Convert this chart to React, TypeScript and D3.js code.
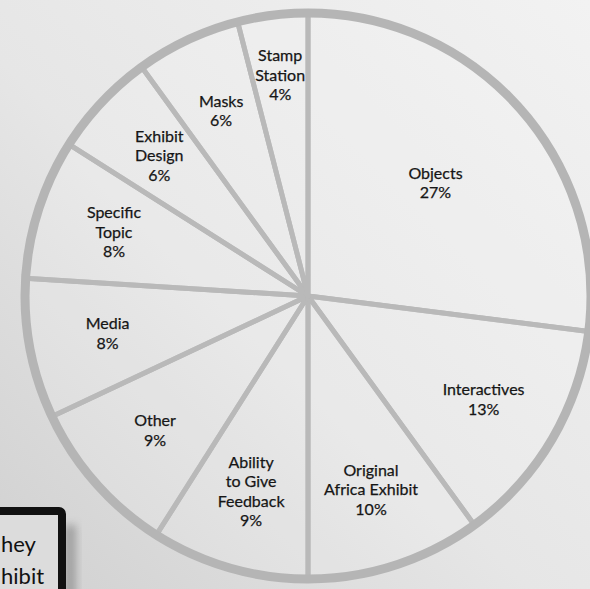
import React, { useEffect, useRef } from "react";
import * as d3 from "d3";

const categories = [
  "Objects",
  "Interactives",
  "Original|Africa Exhibit",
  "Ability|to Give|Feedback",
  "Other",
  "Media",
  "Specific|Topic",
  "Exhibit|Design",
  "Masks",
  "Stamp|Station",
];
const values = [27, 13, 10, 9, 9, 8, 8, 6, 6, 4];
const boxLines = ["hey", "hibit"];

const W = 590;
const H = 589;

export default function App() {
  const ref = useRef<SVGSVGElement>(null);
  useEffect(() => {
    const svg = d3.select(ref.current);
    svg.selectAll("*").remove();
    const defs = svg.append("defs");
    const g1 = defs
      .append("linearGradient")
      .attr("id", "bg")
      .attr("x1", "0")
      .attr("y1", "1")
      .attr("x2", "1")
      .attr("y2", "0");
    g1.append("stop").attr("offset", "0").attr("stop-color", "#d0d0d0");
    g1.append("stop").attr("offset", "0.45").attr("stop-color", "#e6e6e6");
    g1.append("stop").attr("offset", "1").attr("stop-color", "#f2f2f2");
    svg.append("rect").attr("width", W).attr("height", H).attr("fill", "url(#bg)");
    const blur = defs.append("filter").attr("id", "sh").attr("x", "-50%").attr("y", "-50%").attr("width", "200%").attr("height", "200%");
    blur.append("feGaussianBlur").attr("stdDeviation", 4);

    const cx = 308;
    const cy = 296;
    const R = 283;
    const g = svg.append("g").attr("transform", `translate(${cx},${cy})`);

    const data = categories.map((c, i) => ({ label: c, value: values[i] }));
    const pie = d3
      .pie<{ label: string; value: number }>()
      .sort(null)
      .value((d) => d.value)
      .startAngle(0)
      .endAngle(2 * Math.PI);
    const arcs = pie(data);
    const arc = d3.arc<any>().innerRadius(0).outerRadius(R);

    g.selectAll("path.slice")
      .data(arcs)
      .join("path")
      .attr("class", "slice")
      .attr("d", arc)
      .attr("fill", "rgba(255,255,255,0.15)")
      .attr("stroke", "#b9b9b9")
      .attr("stroke-width", 5)
      .attr("stroke-linejoin", "round");

    g.append("circle")
      .attr("r", R)
      .attr("fill", "none")
      .attr("stroke", "#b5b5b5")
      .attr("stroke-width", 9);

    const labelR = (i: number) => (i === 0 ? 170 : i === arcs.length - 1 ? 222 : 204);
    const lineH = 19.5;
    arcs.forEach((a, i) => {
      const mid = (a.startAngle + a.endAngle) / 2;
      const r = labelR(i);
      const x = Math.sin(mid) * r;
      const y = -Math.cos(mid) * r;
      const lines = [...a.data.label.split("|"), `${a.data.value}%`];
      const y0 = y - ((lines.length - 1) * lineH) / 2 + 5;
      lines.forEach((l, k) => {
        g.append("text")
          .attr("x", x)
          .attr("y", y0 + k * lineH)
          .attr("text-anchor", "middle")
          .attr("font-family", "Lato, 'Noto Sans', sans-serif")
          .attr("font-size", 16)
          .attr("fill", "#161616")
          .attr("stroke", "#161616")
          .attr("stroke-width", 0.25)
          .text(l);
      });
    });

    // black framed card at bottom-left
    const card = svg.append("g");
    card
      .append("rect")
      .attr("x", 64)
      .attr("y", 525)
      .attr("width", 12)
      .attr("height", 80)
      .attr("fill", "#8a8a8a")
      .attr("opacity", 0.7)
      .attr("filter", "url(#sh)");
    card
      .append("rect")
      .attr("x", -20)
      .attr("y", 511)
      .attr("width", 82)
      .attr("height", 100)
      .attr("rx", 3)
      .attr("fill", "#dcdcdc")
      .attr("stroke", "#111")
      .attr("stroke-width", 8);
    boxLines.forEach((l, k) => {
      card
        .append("text")
        .attr("x", 1)
        .attr("y", 552 + k * 32)
        .attr("text-anchor", "start")
        .attr("font-family", "Lato, 'Noto Sans', sans-serif")
        .attr("font-size", 22)
        .attr("fill", "#111")
        .text(l);
    });
  }, []);
  return (
    <svg
      ref={ref}
      width={W}
      height={H}
      style={{ position: "fixed", left: 0, top: 0, display: "block" }}
    />
  );
}
